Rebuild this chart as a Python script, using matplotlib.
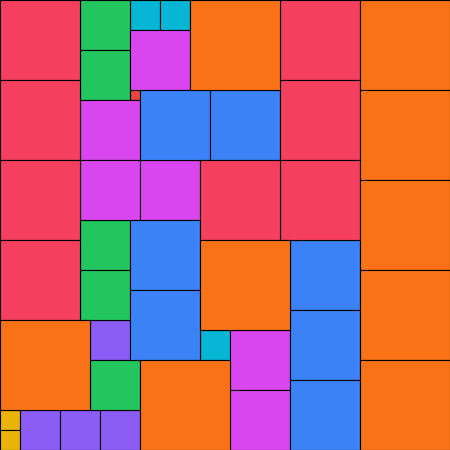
import matplotlib
matplotlib.use('Agg')
import matplotlib.pyplot as plt
from matplotlib.patches import Rectangle

# squares of side n (n = 1..9), n copies each, packed into a 45 x 45 square
# position is the top-left corner in grid units
sizes = [1,
         2, 2,
         3, 3, 3,
         4, 4, 4, 4,
         5, 5, 5, 5, 5,
         6, 6, 6, 6, 6, 6,
         7, 7, 7, 7, 7, 7, 7,
         8, 8, 8, 8, 8, 8, 8, 8,
         9, 9, 9, 9, 9, 9, 9, 9, 9]
xs = [13,
      0, 0,
      13, 16, 20,
      9, 2, 6, 10,
      8, 8, 8, 8, 9,
      13, 8, 8, 14, 23, 23,
      14, 21, 13, 13, 29, 29, 29,
      0, 0, 0, 0, 28, 28, 28, 20,
      0, 19, 36, 36, 36, 36, 36, 20, 14]
ys = [9,
      41, 43,
      0, 0, 33,
      32, 41, 41, 41,
      0, 5, 22, 27, 36,
      3, 10, 16, 16, 33, 39,
      9, 9, 22, 29, 24, 31, 38,
      0, 8, 16, 24, 0, 8, 16, 16,
      32, 0, 0, 9, 18, 27, 36, 24, 36]

colors = {1: '#ef4444', 2: '#eab308', 3: '#06b6d4', 4: '#8b5cf6', 5: '#22c55e',
          6: '#d946ef', 7: '#3b82f6', 8: '#f43f5e', 9: '#f97316'}

fig = plt.figure(figsize=(4.5, 4.5), dpi=100)
ax = fig.add_axes([0, 0, 1, 1])

for s, x, y in zip(sizes, xs, ys):
    ax.add_patch(Rectangle((x, y), s, s, facecolor=colors[s],
                           edgecolor='black', linewidth=0.8))

ax.set_xlim(0, 45)
ax.set_ylim(45, 0)
ax.axis('off')

fig.savefig('out.png', dpi=100)
